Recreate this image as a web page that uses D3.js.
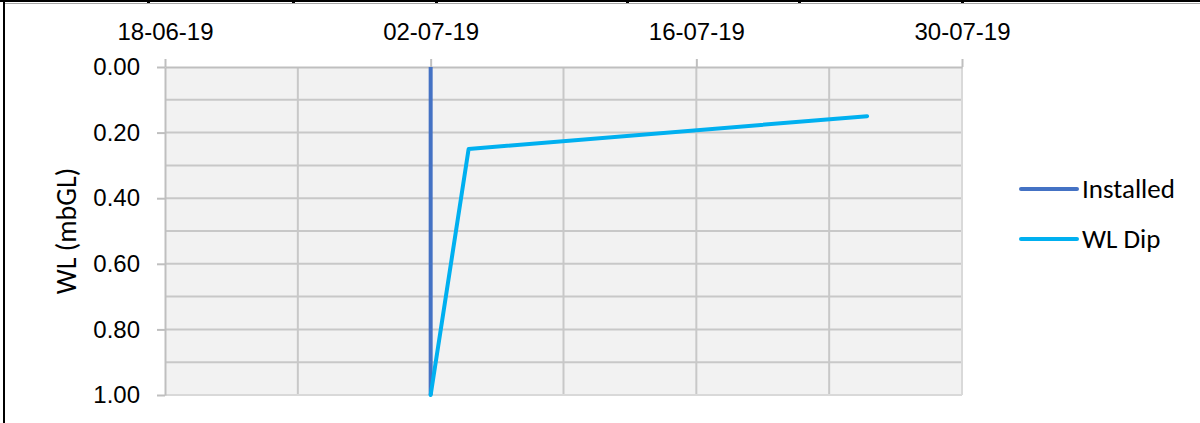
<!DOCTYPE html>
<html>
<head>
<meta charset="utf-8">
<script src="https://cdn.jsdelivr.net/npm/d3@7"></script>
<style>
  body { margin: 0; background: #fff; }
  svg { display: block; font-family: Carlito, Lato, "Open Sans", sans-serif; }
</style>
</head>
<body>
<div id="content"></div>
<script>
// chart values
const xTickLabels = ["18-06-19", "02-07-19", "16-07-19", "30-07-19"];
const yTickLabels = ["0.00", "0.20", "0.40", "0.60", "0.80", "1.00"];
const installedDates = ["2019-07-02", "2019-07-02"];
const installedValues = [0.0, 1.0];
const wlDipDates = ["2019-07-02", "2019-07-04", "2019-07-25"];
const wlDipValues = [1.00, 0.25, 0.15];
const seriesNames = ["Installed", "WL Dip"];
const seriesColors = ["#4472C4", "#00B0F0"];

const W = 1200, H = 423;
const plot = {left: 165, right: 962, top: 67, bottom: 395};

const parseDate = d3.timeParse("%Y-%m-%d");
const tickParse = d3.timeParse("%d-%m-%y");
const fmt = d3.timeFormat("%d-%m-%y");

const svg = d3.select("#content")
    .append("svg")
    .attr("width", W)
    .attr("height", H);

// outer frame bits (page border left and top)
svg.append("rect").attr("x", 0).attr("y", 0).attr("width", W).attr("height", 2).attr("fill", "#000");
svg.append("line").attr("x1", 4).attr("x2", W).attr("y1", 3.5).attr("y2", 3.5)
    .attr("stroke", "#a6a6a6").attr("stroke-width", 1);
svg.append("rect").attr("x", 3).attr("y", 0).attr("width", 2).attr("height", H).attr("fill", "#000");
[148, 293, 436, 627, 799, 962].forEach(function(px) {
    svg.append("rect").attr("x", px - 1).attr("y", 0).attr("width", 3).attr("height", 3).attr("fill", "#000");
});

const x = d3.scaleTime()
    .domain([tickParse(xTickLabels[0]), tickParse(xTickLabels[xTickLabels.length - 1])])
    .range([plot.left, plot.right]);

const y = d3.scaleLinear()
    .domain([0, 1])
    .range([plot.top, plot.bottom]);

// plot background
svg.append("rect")
    .attr("x", plot.left).attr("y", plot.top)
    .attr("width", plot.right - plot.left)
    .attr("height", plot.bottom - plot.top)
    .attr("fill", "#F2F2F2");

// gridlines (major + minor)
const start = x.domain()[0], end = x.domain()[1];
const vGrid = d3.timeDay.range(start, end)
    .filter(d => d3.timeDay.count(start, d) % 7 === 0 && +d !== +start);
svg.append("g").selectAll("line")
    .data(vGrid)
    .join("line")
    .attr("x1", d => x(d)).attr("x2", d => x(d))
    .attr("y1", plot.top).attr("y2", plot.bottom)
    .attr("stroke", "#C8C8C8").attr("stroke-width", 2);

const hGrid = d3.range(1, 10).map(i => i / 10);
svg.append("g").selectAll("line")
    .data(hGrid)
    .join("line")
    .attr("x1", plot.left).attr("x2", plot.right)
    .attr("y1", d => y(d)).attr("y2", d => y(d))
    .attr("stroke", "#C8C8C8").attr("stroke-width", 2);

// plot frame: right & bottom light
svg.append("line")
    .attr("x1", plot.right).attr("x2", plot.right)
    .attr("y1", plot.top).attr("y2", plot.bottom)
    .attr("stroke", "#D9D9D9").attr("stroke-width", 2);
svg.append("line")
    .attr("x1", plot.left).attr("x2", plot.right)
    .attr("y1", plot.bottom).attr("y2", plot.bottom)
    .attr("stroke", "#D9D9D9").attr("stroke-width", 2);

// top x axis
const xAxis = d3.axisTop(x)
    .tickValues(xTickLabels.map(tickParse))
    .tickFormat(fmt)
    .tickSizeInner(8)
    .tickSizeOuter(0)
    .tickPadding(19);

const gx = svg.append("g")
    .attr("transform", "translate(0," + plot.top + ")")
    .call(xAxis);
gx.select(".domain").attr("stroke", "#BFBFBF").attr("stroke-width", 2);
gx.selectAll(".tick line").attr("stroke", "#BFBFBF").attr("stroke-width", 2);
gx.selectAll(".tick text")
    .attr("fill", "#000")
    .style("font-size", "24px");

// left y axis
const yAxis = d3.axisLeft(y)
    .tickValues(yTickLabels.map(Number))
    .tickFormat((d, i) => yTickLabels[i])
    .tickSizeInner(8)
    .tickSizeOuter(0)
    .tickPadding(17);

const gy = svg.append("g")
    .attr("transform", "translate(" + plot.left + ",0)")
    .call(yAxis);
gy.select(".domain").attr("stroke", "#BFBFBF").attr("stroke-width", 2);
gy.selectAll(".tick line").attr("stroke", "#BFBFBF").attr("stroke-width", 2);
gy.selectAll(".tick text")
    .attr("fill", "#000")
    .style("font-size", "24px");

// y axis title
svg.append("text")
    .attr("transform", "translate(76,231) rotate(-90)")
    .attr("text-anchor", "middle")
    .style("font-size", "28px")
    .attr("fill", "#000")
    .text("WL (mbGL)");

// series
const line = d3.line()
    .x(d => x(d.date))
    .y(d => y(d.value));

const installed = installedDates.map((d, i) => ({date: parseDate(d), value: installedValues[i]}));
const wlDip = wlDipDates.map((d, i) => ({date: parseDate(d), value: wlDipValues[i]}));

svg.append("path")
    .datum(installed)
    .attr("fill", "none")
    .attr("stroke", seriesColors[0])
    .attr("stroke-width", 4)
    .attr("d", line);

svg.append("path")
    .datum(wlDip)
    .attr("fill", "none")
    .attr("stroke", seriesColors[1])
    .attr("stroke-width", 4)
    .attr("stroke-linejoin", "round")
    .attr("stroke-linecap", "round")
    .attr("d", line);

// legend
const legend = svg.append("g").attr("transform", "translate(1021,189)");
seriesNames.forEach(function(name, i) {
    const row = legend.append("g").attr("transform", "translate(0," + i * 50 + ")");
    row.append("line")
        .attr("x1", 0).attr("x2", 56)
        .attr("y1", 0).attr("y2", 0)
        .attr("stroke", seriesColors[i])
        .attr("stroke-width", 4)
        .attr("stroke-linecap", "round");
    row.append("text")
        .attr("x", 61)
        .attr("dy", "0.35em")
        .style("font-size", "27px")
        .attr("fill", "#000")
        .text(name);
});
</script>
</body>
</html>
